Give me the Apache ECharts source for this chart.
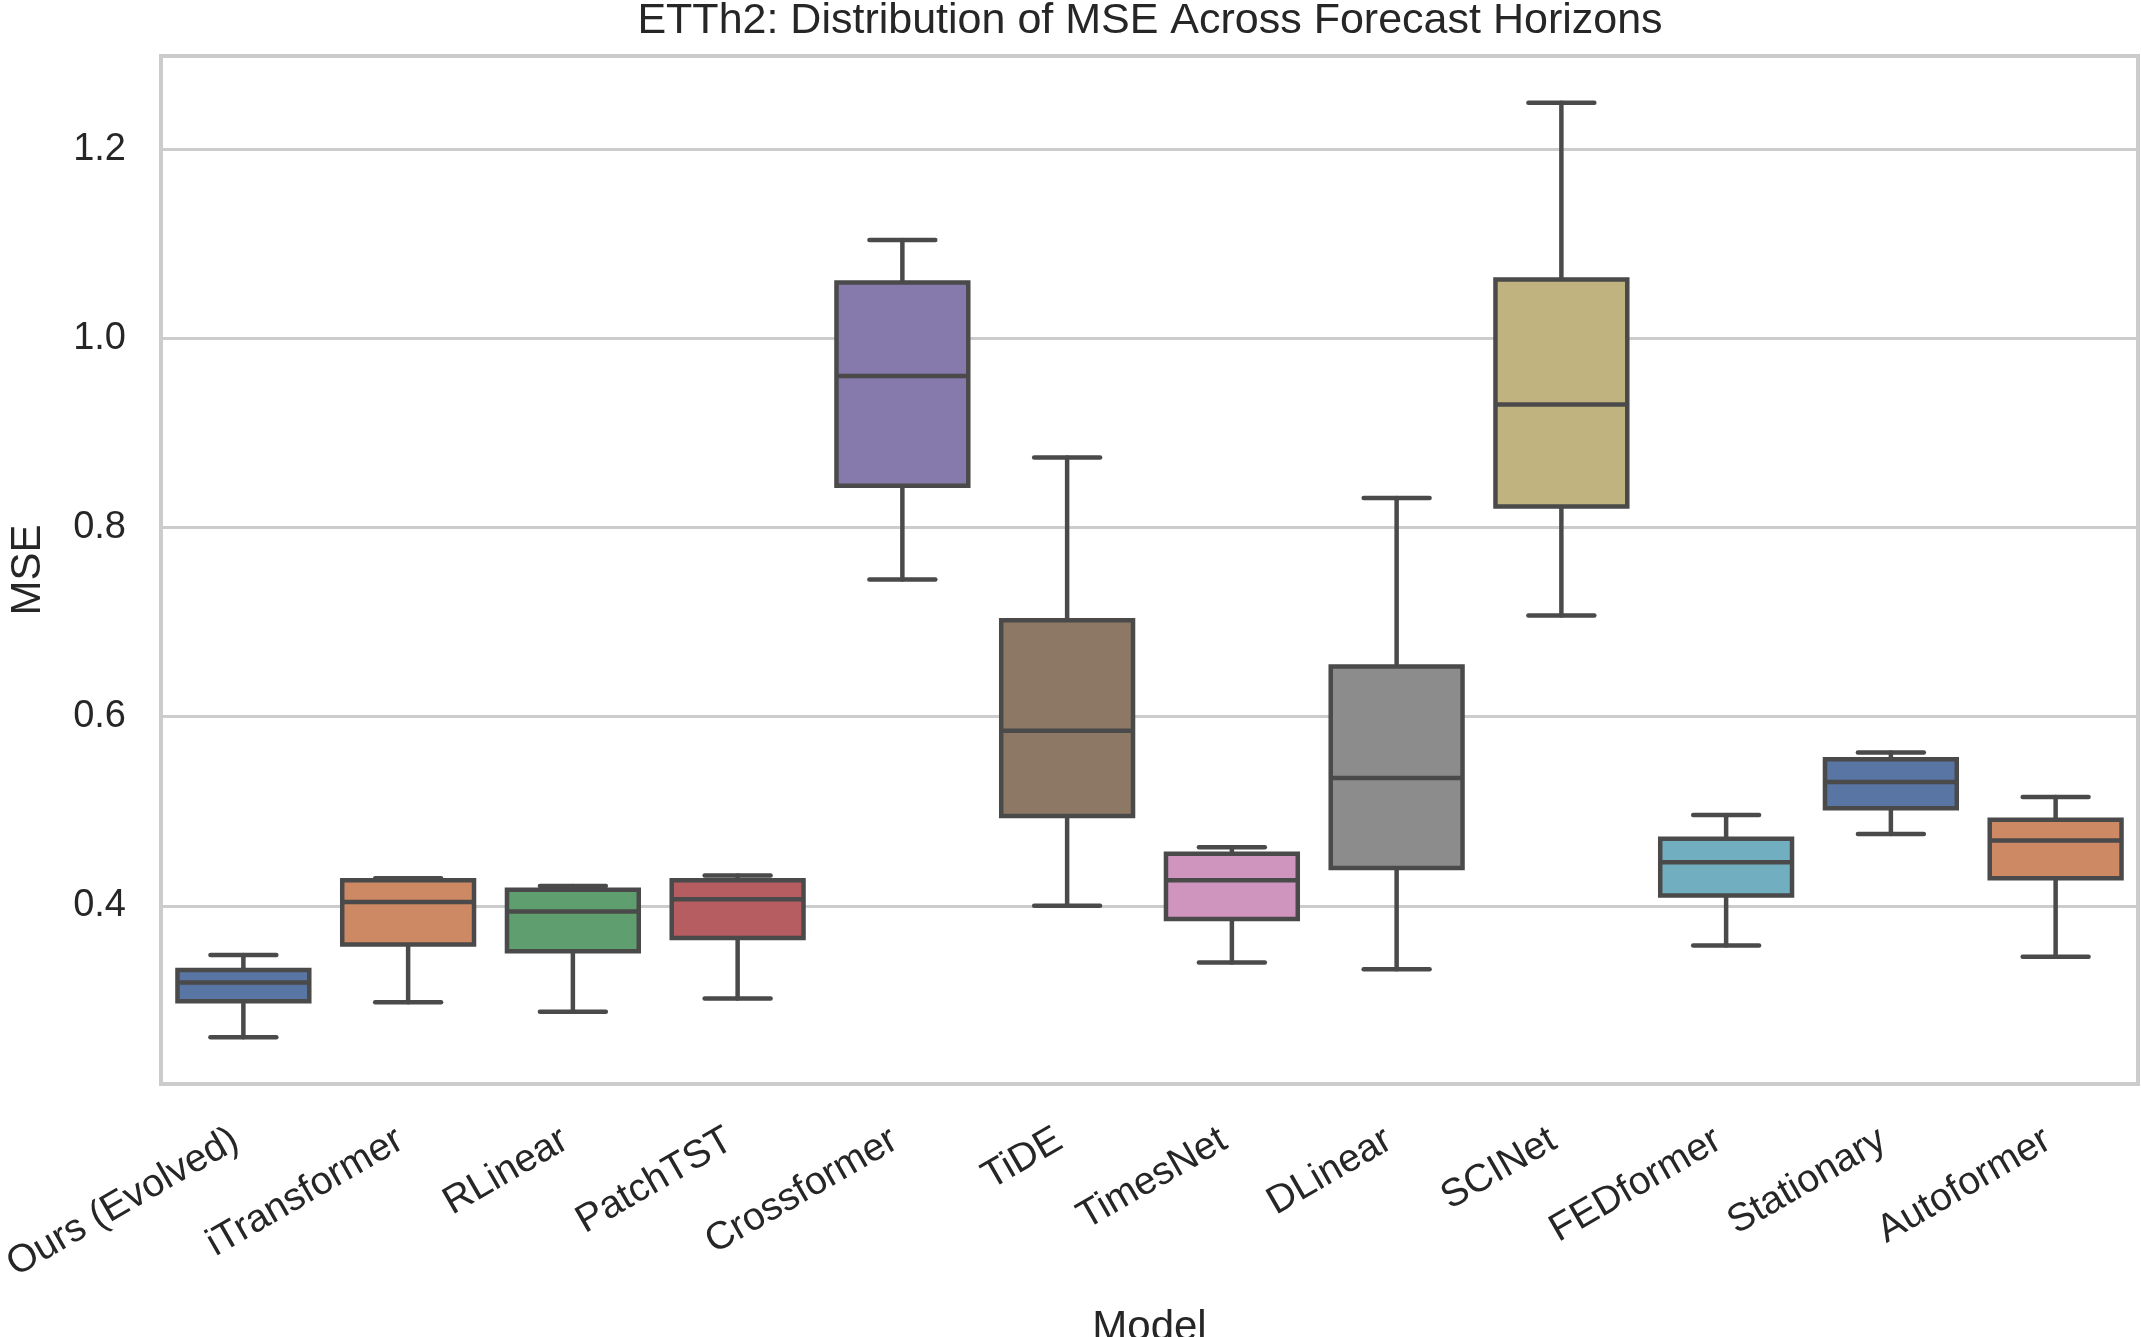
<!DOCTYPE html>
<html>
<head>
<meta charset="utf-8">
<title>ETTh2 MSE</title>
<script src="https://cdn.jsdelivr.net/npm/echarts@6/dist/echarts.min.js"></script>
<style>
	html, body { margin: 0; padding: 0; background: #fff; }
	#chart { width: 2141px; height: 1337px; }
</style>
</head>
<body>
<div id="chart"></div>
<script>
// box stats per model
var models = ['Ours (Evolved)', 'iTransformer', 'RLinear', 'PatchTST', 'Crossformer', 'TiDE', 'TimesNet', 'DLinear', 'SCINet', 'FEDformer', 'Stationary', 'Autoformer'];
var lowWhisker = [0.261, 0.298, 0.288, 0.302, 0.745, 0.400, 0.340, 0.333, 0.707, 0.358, 0.476, 0.346];
var q1 = [0.299, 0.359, 0.352, 0.366, 0.844, 0.495, 0.386, 0.440, 0.822, 0.411, 0.503, 0.429];
var median = [0.319, 0.404, 0.394, 0.407, 0.960, 0.585, 0.427, 0.535, 0.930, 0.446, 0.531, 0.469];
var q3 = [0.332, 0.427, 0.417, 0.427, 1.059, 0.702, 0.455, 0.653, 1.062, 0.471, 0.555, 0.491];
var highWhisker = [0.348, 0.429, 0.421, 0.432, 1.104, 0.874, 0.462, 0.831, 1.249, 0.496, 0.562, 0.515];
var yTicks = [0.4, 0.6, 0.8, 1.0, 1.2];

var palette = ['#5975a4', '#cc8963', '#5f9e6e', '#b55d60', '#857aab', '#8d7866', '#d095bf', '#8c8c8c', '#c1b37f', '#71aec0', '#5975a4', '#cc8963'];
var lineColor = '#4a4a4a';
var font = '"Liberation Sans", Arial, sans-serif';

var boxData = models.map(function (m, i) {
	return [i, lowWhisker[i], q1[i], median[i], q3[i], highWhisker[i]];
});

// matplotlib style 5% padding
var dMin = Math.min.apply(null, lowWhisker);
var dMax = Math.max.apply(null, highWhisker);
var pad = (dMax - dMin) * 0.05;

function renderBox(params, api) {
	var i = api.value(0);
	var band = api.size([1, 0])[0];
	var half = band * 0.4;
	var capHalf = band * 0.2;
	var pLow = api.coord([i, api.value(1)]);
	var pQ1 = api.coord([i, api.value(2)]);
	var pMed = api.coord([i, api.value(3)]);
	var pQ3 = api.coord([i, api.value(4)]);
	var pHigh = api.coord([i, api.value(5)]);
	var x = pMed[0];
	var lineStyle = { stroke: lineColor, lineWidth: 4.5, lineCap: 'round' };
	return {
		type: 'group',
		children: [
			{ type: 'line', shape: { x1: x, y1: pQ3[1], x2: x, y2: pHigh[1] }, style: lineStyle },
			{ type: 'line', shape: { x1: x, y1: pQ1[1], x2: x, y2: pLow[1] }, style: lineStyle },
			{ type: 'line', shape: { x1: x - capHalf, y1: pHigh[1], x2: x + capHalf, y2: pHigh[1] }, style: lineStyle },
			{ type: 'line', shape: { x1: x - capHalf, y1: pLow[1], x2: x + capHalf, y2: pLow[1] }, style: lineStyle },
			{
				type: 'rect',
				shape: { x: x - half, y: pQ3[1], width: half * 2, height: pQ1[1] - pQ3[1] },
				style: { fill: palette[i], stroke: lineColor, lineWidth: 4.5 }
			},
			{ type: 'line', shape: { x1: x - half, y1: pMed[1], x2: x + half, y2: pMed[1] }, style: { stroke: lineColor, lineWidth: 4.5 } }
		]
	};
}

var chart = echarts.init(document.getElementById('chart'));
var option = {
	backgroundColor: '#ffffff',
	textStyle: { fontFamily: font, color: '#262626' },
	grid: {
		left: 161, right: 3, top: 56, bottom: 253,
		outerBoundsMode: 'none',
		show: true, borderColor: '#cccccc', borderWidth: 4
	},
	graphic: [{
		type: 'text',
		x: 1150, y: 21,
		style: {
			text: 'ETTh2: Distribution of MSE Across Forecast Horizons',
			font: '43px ' + font,
			fill: '#262626',
			textAlign: 'center',
			textVerticalAlign: 'middle'
		}
	}],
	xAxis: {
		type: 'category',
		data: models,
		name: 'Model',
		nameLocation: 'middle',
		nameGap: 223,
		nameTextStyle: { fontSize: 42, color: '#262626', fontFamily: font },
		axisLine: { show: false },
		axisTick: { show: false },
		splitLine: { show: false },
		axisLabel: {
			interval: 0,
			rotate: 30,
			margin: 49,
			padding: [0, 9, 0, 0],
			fontSize: 39,
			color: '#262626',
			fontFamily: font
		}
	},
	yAxis: {
		type: 'value',
		min: dMin - pad,
		max: dMax + pad,
		splitNumber: 5,
		name: 'MSE',
		nameLocation: 'middle',
		nameGap: 112,
		nameTextStyle: { fontSize: 42, color: '#262626', fontFamily: font },
		axisLine: { show: false },
		axisTick: { show: false },
		splitLine: { show: true, lineStyle: { color: '#cccccc', width: 3 } },
		axisLabel: {
			margin: 35,
			fontSize: 38,
			color: '#262626',
			fontFamily: font,
			showMinLabel: false,
			showMaxLabel: false,
			formatter: function (v) {
				for (var k = 0; k < yTicks.length; k++) {
					if (Math.abs(v - yTicks[k]) < 1e-6) return yTicks[k].toFixed(1);
				}
				return '';
			}
		}
	},
	series: [{
		type: 'custom',
		renderItem: renderBox,
		encode: { x: 0, y: [1, 2, 3, 4, 5] },
		data: boxData
	}]
};
chart.setOption(option);
</script>
</body>
</html>
